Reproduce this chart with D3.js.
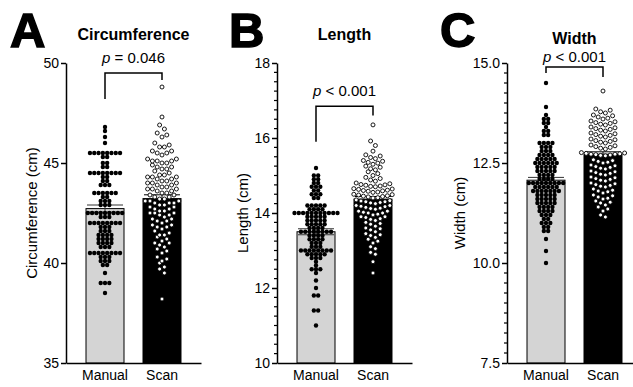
<!DOCTYPE html>
<html>
<head>
<meta charset="utf-8">
<script src="https://cdn.jsdelivr.net/npm/d3@7"></script>
<style>
  body { margin: 0; background: #fff; }
  svg { font-family: "Liberation Sans", Arial, sans-serif; }
</style>
</head>
<body>
<svg id="chart" width="633" height="387"></svg>
<script>
const panels = ["A", "B", "C"];
const titles = ["Circumference", "Length", "Width"];
const yLabels = ["Circumference (cm)", "Length (cm)", "Width (cm)"];
const groups = ["Manual", "Scan"];
const pLabels = ["= 0.046", "< 0.001", "< 0.001"];
const yDomains = [[35, 50], [10, 18], [7.5, 15]];
const yTicks = [[35, 40, 45, 50], [10, 12, 14, 16, 18], [7.5, 10, 12.5, 15]];
const minorStep = [0, 0.25, 0.25];
const means = [[42.72, 43.22], [13.5, 14.37], [12.07, 12.72]];
const sems = [[0.18, 0.19], [0.08, 0.07], [0.07, 0.06]];
// bracket: left leg end, top, right leg end (data units)
const brackets = [[48.2, 49.5, 49.15], [15.9, 16.85, 16.6], [14.75, 14.9, 14.65]];

// manual measurements are discrete -> [value, count]
const manualCirc = [
  [46.8, 1], [46.6, 1], [46.3, 1], [46.0, 1], [45.5, 8], [45.3, 2], [45.0, 2], [44.8, 2],
  [44.5, 8], [44.3, 2], [44.1, 2], [43.9, 3], [43.5, 6], [43.3, 2], [43.1, 3], [42.9, 3],
  [42.5, 9], [42.3, 3], [42.0, 8], [41.8, 3], [41.6, 3], [41.4, 4], [41.2, 4], [41.0, 4],
  [40.8, 3], [40.5, 8], [40.3, 3], [40.1, 3], [39.9, 2], [39.5, 1], [39.0, 3], [38.5, 1]
];
const scanCirc = [
  48.8, 47.3, 46.9, 46.7, 46.5, 46.4, 46.3, 46.0, 45.9, 45.8, 45.8,
  45.6, 45.5, 45.5, 45.4, 45.6, 45.2, 45.1, 45.1, 45.0, 45.2, 45.0, 45.1,
  44.8, 44.8, 44.7, 44.6, 44.7, 44.9, 44.4, 44.3, 44.3, 44.2, 44.4, 44.2, 44.3, 44.5,
  44.0, 44.1, 43.9, 44.0, 44.1, 43.9, 44.0, 43.8, 43.7, 43.6, 43.7, 43.8, 43.6, 43.7,
  43.5, 43.4, 43.3, 43.4, 43.5, 43.3, 43.2, 43.1, 43.1, 43.0, 43.2, 43.0, 43.1, 43.0,
  42.9, 42.8, 42.7, 42.8, 42.9, 42.7, 42.6, 42.5, 42.4, 42.5, 42.6, 42.4, 42.5,
  42.3, 42.2, 42.1, 42.2, 42.0, 42.1, 41.9, 41.8, 41.7, 41.8, 41.6, 41.9,
  41.5, 41.4, 41.3, 41.4, 41.2, 41.1, 41.0, 40.9, 41.0, 40.8, 40.7, 40.6,
  40.5, 40.3, 40.2, 40.1, 40.0, 39.8, 39.7, 39.5, 38.2
];
const manualLength = [
  [15.2, 1], [15.0, 2], [14.9, 2], [14.8, 2], [14.7, 3], [14.6, 2], [14.5, 3], [14.4, 2],
  [14.2, 5], [14.1, 4], [14.0, 11], [13.9, 5], [13.8, 5], [13.7, 5], [13.6, 4], [13.5, 8],
  [13.4, 4], [13.3, 4], [13.2, 3], [13.1, 3], [13.0, 8], [12.9, 5], [12.8, 3], [12.7, 1],
  [12.6, 1], [12.5, 3], [12.4, 1], [12.2, 1], [12.0, 1], [11.8, 2], [11.4, 2], [11.0, 1]
];
const scanLength = [
  12.4, 12.7, 12.9, 12.95, 13.05, 13.1, 13.2, 13.25, 13.3,
  13.35, 13.4, 13.42, 13.45, 13.5, 13.55, 13.58, 13.6, 13.65, 13.7, 13.72, 13.75,
  13.8, 13.83, 13.85, 13.88, 13.9, 13.9,
  13.95, 13.97, 14.0, 14.0, 14.02, 14.05, 14.05,
  14.1, 14.12, 14.13, 14.15, 14.17, 14.18, 14.2, 14.2,
  14.25, 14.27, 14.28, 14.3, 14.3, 14.32, 14.33, 14.35,
  14.4, 14.41, 14.43, 14.44, 14.45, 14.46, 14.48, 14.49, 14.5,
  14.55, 14.56, 14.58, 14.59, 14.6, 14.61, 14.63, 14.64, 14.65,
  14.7, 14.71, 14.72, 14.74, 14.75, 14.76, 14.78, 14.8,
  14.85, 14.88, 14.92, 14.95, 15.0, 15.05, 15.1,
  15.15, 15.18, 15.22, 15.25, 15.3, 15.33, 15.35, 15.38, 15.4,
  15.45, 15.48, 15.52, 15.55, 15.65, 15.8, 15.92, 16.35
];
const manualWidth = [
  [14.5, 1], [13.9, 1], [13.7, 1], [13.6, 2], [13.5, 2], [13.4, 1], [13.3, 2], [13.2, 2],
  [13.0, 4], [12.9, 3], [12.8, 3], [12.7, 4], [12.6, 5], [12.5, 6], [12.4, 5], [12.3, 5],
  [12.2, 4], [12.1, 4], [12.0, 9], [11.9, 6], [11.8, 7], [11.7, 5], [11.6, 5], [11.5, 5],
  [11.4, 4], [11.3, 4], [11.2, 3], [11.1, 2], [11.0, 3], [10.9, 2], [10.8, 2], [10.6, 1],
  [10.3, 1], [10.0, 1]
];
const scanWidth = [
  11.15, 11.2, 11.3, 11.35, 11.4, 11.45, 11.5, 11.52, 11.55,
  11.6, 11.62, 11.65, 11.68, 11.7, 11.75, 11.78, 11.8, 11.82, 11.85,
  11.9, 11.92, 11.94, 11.96, 11.98, 12.0, 12.05, 12.07, 12.09, 12.11, 12.13, 12.15,
  12.2, 12.22, 12.24, 12.26, 12.28, 12.3, 12.35, 12.37, 12.39, 12.41, 12.43, 12.45,
  12.5, 12.52, 12.54, 12.56, 12.58,
  12.68, 12.69, 12.7, 12.71, 12.72, 12.72, 12.73, 12.74, 12.75, 12.76,
  12.85, 12.87, 12.89, 12.91, 12.93, 12.95, 13.0, 13.02, 13.04, 13.06, 13.08, 13.1,
  13.15, 13.17, 13.19, 13.21, 13.23, 13.25, 13.3, 13.32, 13.34, 13.36, 13.38, 13.4,
  13.45, 13.47, 13.49, 13.51, 13.53, 13.55, 13.6, 13.62, 13.65, 13.68, 13.7,
  13.75, 13.78, 13.82, 13.85, 14.3
];

const expand = rows => rows.flatMap(([v, n]) => Array(n).fill(v));
const series = [
  [expand(manualCirc), scanCirc],
  [expand(manualLength), scanLength],
  [expand(manualWidth), scanWidth]
];

const svg = d3.select("#chart");
const TOP = 63, BOTTOM = 363, XW = 135;
const axisX = [66, 277, 507];
const letterX = [10, 229, 440];
const titleY = [40, 40, 44];
const pGap = [10, 10, 5];

// prism-like column scatter: points closer than `bin` px share a row,
// each row is centred on the column
function rows(vals, y, d, bin) {
  const out = [];
  let cur = [];
  vals.slice().sort((a, b) => a - b).forEach(v => {
    if (cur.length && Math.abs(y(v) - y(cur[0])) >= bin) { out.push(cur); cur = []; }
    cur.push(v);
  });
  if (cur.length) out.push(cur);
  const pts = [];
  out.forEach(r => {
    const n = r.length;
    const slots = d3.range(n).map(k => (k - (n - 1) / 2) * d)
      .sort((a, b) => Math.abs(a) - Math.abs(b) || b - a);
    r.forEach((v, k) => pts.push({ v: v, y: y(v), x: slots[k] }));
  });
  return pts;
}

panels.forEach((letter, i) => {
  const g = svg.append("g").attr("transform", `translate(${axisX[i]},0)`);
  const y = d3.scaleLinear().domain(yDomains[i]).range([BOTTOM, TOP]);
  const x = d3.scaleBand().domain(groups).range([0, XW])
    .paddingInner(1 / 3).paddingOuter(0.351);
  const cx = grp => x(grp) + x.bandwidth() / 2;

  // bars
  groups.forEach((grp, j) => {
    g.append("rect")
      .attr("x", x(grp))
      .attr("y", y(means[i][j]))
      .attr("width", x.bandwidth())
      .attr("height", BOTTOM - y(means[i][j]))
      .attr("fill", j ? "#000" : "#d4d4d4")
      .attr("stroke", "#000")
      .attr("stroke-width", 1);
    // mean +- SEM
    const lo = y(means[i][j] - sems[i][j]), hi = y(means[i][j] + sems[i][j]);
    const eb = g.append("g").attr("stroke", j ? "#000" : "#333").attr("stroke-width", 1);
    eb.append("line").attr("x1", cx(grp)).attr("x2", cx(grp)).attr("y1", lo).attr("y2", hi);
    [lo, hi].forEach(yy => eb.append("line")
      .attr("x1", x(grp) + 1).attr("x2", x(grp) + x.bandwidth() - 1)
      .attr("y1", yy).attr("y2", yy));
  });

  // dots
  groups.forEach((grp, j) => {
    const d = j ? 4.8 : 4.3;
    const pts = rows(series[i][j], y, d, j ? d * 0.95 : d * 0.85);
    g.append("g").selectAll("circle")
      .data(pts)
      .enter()
      .append("circle")
      .attr("cx", p => cx(grp) + p.x)
      .attr("cy", p => p.y)
      .attr("r", j ? 2.0 : 2.2)
      .attr("fill", j ? "#fff" : "#000")
      .attr("stroke", j ? "#000" : "none")
      .attr("stroke-width", 0.9);
  });

  // y axis
  const fmt = i === 2 ? d3.format(".1f") : d3.format("d");
  const ya = g.append("g")
    .call(d3.axisLeft(y).tickValues(yTicks[i]).tickSize(5).tickSizeOuter(0)
      .tickPadding(2).tickFormat(fmt));
  ya.selectAll("path, line").attr("stroke", "#000").attr("stroke-width", 1.5);
  ya.selectAll("text").attr("font-size", 14).attr("fill", "#000")
    .attr("font-family", "Liberation Sans, Arial, sans-serif");
  if (minorStep[i]) {
    const minors = d3.range(yDomains[i][0], yDomains[i][1] + 1e-6, minorStep[i])
      .filter(v => !yTicks[i].some(t => Math.abs(t - v) < 1e-6));
    g.append("g").selectAll("line")
      .data(minors)
      .enter()
      .append("line")
      .attr("x1", -3).attr("x2", 0)
      .attr("y1", v => y(v)).attr("y2", v => y(v))
      .attr("stroke", "#000").attr("stroke-width", 1.2);
  }

  // x axis
  const xa = g.append("g").attr("transform", `translate(0,${BOTTOM})`)
    .call(d3.axisBottom(x).tickSize(0).tickSizeOuter(0).tickPadding(7));
  xa.select(".domain").attr("stroke", "#000").attr("stroke-width", 1.5);
  xa.selectAll("text").attr("font-size", 14).attr("fill", "#000")
    .attr("font-family", "Liberation Sans, Arial, sans-serif");

  // axis title
  g.append("text")
    .attr("transform", `translate(${i === 2 ? -47 : -34},${(TOP + BOTTOM) / 2}) rotate(-90)`)
    .attr("dy", "0.35em")
    .attr("text-anchor", "middle")
    .attr("font-size", 15)
    .text(yLabels[i]);

  // panel title
  g.append("text")
    .attr("x", XW / 2)
    .attr("y", titleY[i])
    .attr("text-anchor", "middle")
    .attr("font-size", 16)
    .attr("font-weight", "bold")
    .text(titles[i]);

  // significance bracket
  const [l, t, r] = brackets[i];
  g.append("path")
    .attr("d", `M${cx("Manual")},${y(l)}V${y(t)}H${cx("Scan")}V${y(r)}`)
    .attr("fill", "none")
    .attr("stroke", "#000")
    .attr("stroke-width", 1.5);
  const pt = g.append("text")
    .attr("x", (cx("Manual") + cx("Scan")) / 2)
    .attr("y", y(t) - pGap[i])
    .attr("text-anchor", "middle")
    .attr("font-size", 15);
  pt.append("tspan").attr("font-style", "italic").text("p");
  pt.append("tspan").text(" " + pLabels[i]);

  // panel letter
  svg.append("text")
    .attr("x", letterX[i])
    .attr("y", 47)
    .attr("font-size", 49)
    .attr("font-weight", "bold")
    .attr("stroke", "#000")
    .attr("stroke-width", 1.5)
    .text(letter);
});
</script>
</body>
</html>
